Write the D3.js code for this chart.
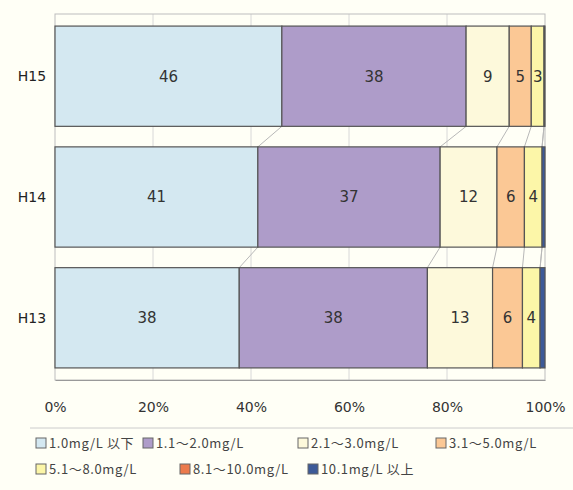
<!DOCTYPE html>
<html><head><meta charset="utf-8">
<script src="https://cdn.jsdelivr.net/npm/d3@7"></script>
<style>
html,body{margin:0;padding:0;background:#fffff6;}
svg{display:block;}
</style></head>
<body>
<svg id="chart" width="573" height="490"></svg>
<script>
const years = ["H15", "H14", "H13"];
const seriesNames = ["1.0mg/L 以下", "1.1～2.0mg/L", "2.1～3.0mg/L", "3.1～5.0mg/L", "5.1～8.0mg/L", "8.1～10.0mg/L", "10.1mg/L 以上"];
const s1 = [46.3, 41.4, 37.6];
const s2 = [37.6, 37.2, 38.4];
const s3 = [8.8, 11.6, 13.3];
const s4 = [4.5, 5.6, 6.1];
const s5 = [2.6, 3.6, 3.6];
const s6 = [0.0, 0.0, 0.0];
const s7 = [0.2, 0.6, 1.0];
const tickValues = [0, 20, 40, 60, 80, 100];
const colors = ["#d4e8f1", "#ae9cc9", "#fdf9db", "#fbc895", "#fcf6a8", "#ec7a4c", "#3d5a98"];

const allSeries = [s1, s2, s3, s4, s5, s6, s7];
const svg = d3.select("#chart");
const x = d3.scaleLinear().domain([0, 100]).range([55, 545]);
const y = d3.scaleBand().domain(years).range([14, 380]).paddingInner(0.17).paddingOuter(0.1);

const rows = years.map((yr, i) => {
  let c = 0;
  return allSeries.map((s, k) => { const v = s[i]; const seg = {yr, k, x0: c, x1: c + v, v}; c += v; return seg; });
});

// gridlines
svg.append("g").selectAll("line").data(tickValues.slice(1, -1)).join("line")
  .attr("x1", d => x(d)).attr("x2", d => x(d)).attr("y1", 14).attr("y2", 380)
  .attr("stroke", "#d8d8d8").attr("stroke-width", 1);
// frame
svg.append("rect").attr("x", x(0)).attr("y", 14).attr("width", x(100) - x(0)).attr("height", 366)
  .attr("fill", "none").attr("stroke", "#bdbdbd");

// connector lines
const conn = svg.append("g");
for (let i = 0; i < years.length - 1; i++) {
  for (let k = 0; k < allSeries.length - 1; k++) {
    const a = rows[i][k].x1, b = rows[i + 1][k].x1;
    conn.append("line")
      .attr("x1", x(a)).attr("y1", y(years[i]) + y.bandwidth())
      .attr("x2", x(b)).attr("y2", y(years[i + 1]))
      .attr("stroke", "#b8b8b8").attr("stroke-width", 1);
  }
}

// bars
const g = svg.append("g");
rows.forEach(r => {
  g.selectAll(null).data(r.filter(d => d.v > 0)).join("rect")
    .attr("x", d => x(d.x0)).attr("y", d => y(d.yr))
    .attr("width", d => x(d.x1) - x(d.x0)).attr("height", y.bandwidth())
    .attr("fill", d => colors[d.k]).attr("stroke", "#555").attr("stroke-width", 1.2);
  g.selectAll(null).data(r.filter(d => d.v >= 2)).join("text")
    .attr("x", d => (x(d.x0) + x(d.x1)) / 2).attr("y", d => y(d.yr) + y.bandwidth() / 2)
    .attr("dy", "0.36em").attr("text-anchor", "middle")
    .attr("font-family", "DejaVu Sans, sans-serif").attr("font-size", 15).attr("fill", "#333")
    .text(d => Math.round(d.v));
});

// y labels
svg.append("g").selectAll("text").data(years).join("text")
  .attr("x", 32).attr("y", d => y(d) + y.bandwidth() / 2).attr("dy", "0.36em")
  .attr("text-anchor", "middle").attr("font-family", "DejaVu Sans, sans-serif")
  .attr("font-size", 14).attr("fill", "#222").text(d => d);

// x axis
const xAxis = svg.append("g").attr("transform", "translate(0,380)")
  .call(d3.axisBottom(x).tickValues(tickValues).tickFormat(d => d + "%").tickSize(0).tickPadding(22));
xAxis.select(".domain").attr("stroke", "#999");
xAxis.selectAll("text").attr("font-family", "DejaVu Sans, sans-serif").attr("font-size", 14).attr("fill", "#333");

// legend
svg.append("line").attr("x1", 30).attr("x2", 573).attr("y1", 428).attr("y2", 428).attr("stroke", "#ccc");
const legPos = [[36, 443], [143, 443], [298, 443], [436, 443], [36, 469], [180, 469], [308, 469]];
const leg = svg.append("g").selectAll("g").data(seriesNames).join("g")
  .attr("transform", (d, i) => `translate(${legPos[i][0]},${legPos[i][1]})`);
leg.append("rect").attr("x", 0).attr("y", -5).attr("width", 10).attr("height", 10)
  .attr("fill", (d, i) => colors[i]).attr("stroke", "#666").attr("stroke-width", 1);
leg.append("text").attr("x", 13).attr("y", 0).attr("dy", "0.36em")
  .attr("font-family", "Noto Sans CJK JP, sans-serif").attr("font-size", 13).attr("letter-spacing", 0.6).attr("fill", "#444")
  .text(d => d);
</script>
</body></html>
